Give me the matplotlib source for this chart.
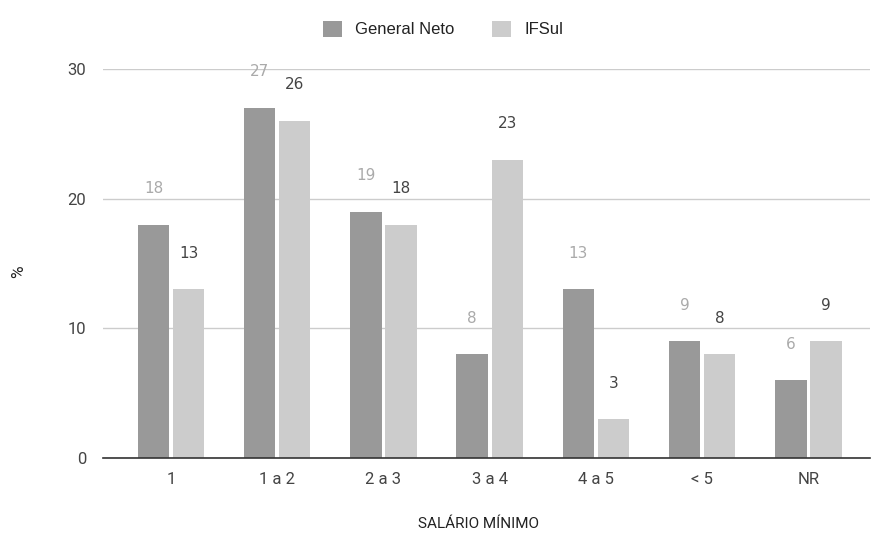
import matplotlib
matplotlib.use("Agg")
import matplotlib.pyplot as plt
import numpy as np

categories = ["1", "1 a 2", "2 a 3", "3 a 4", "4 a 5", "< 5", "NR"]
general_neto = [18, 27, 19, 8, 13, 9, 6]
ifsul = [13, 26, 18, 23, 3, 8, 9]
series_names = ["General Neto", "IFSul"]
y_ticks = [0, 10, 20, 30]

plt.rcParams["font.family"] = ["Roboto", "DejaVu Sans"]

fig = plt.figure(figsize=(8.71, 5.34), dpi=100)
ax = fig.add_axes([103 / 871, 1 - 458 / 534, (870 - 103) / 871, (458 - 69) / 534])

x = np.arange(len(categories))
w = 0.295
off = 0.165
c_dark, c_light = "#999999", "#cccccc"

b1 = ax.bar(x - off, general_neto, w, color=c_dark, label=series_names[0], zorder=3)
b2 = ax.bar(x + off, ifsul, w, color=c_light, label=series_names[1], zorder=3)

for rect, v in zip(b1, general_neto):
    ax.annotate(str(v), (rect.get_x() + rect.get_width() / 2, v), xytext=(0, 36),
                textcoords="offset pixels", ha="center", va="center",
                fontsize=11, family="DejaVu Sans", color="#aaaaaa",
                annotation_clip=False)
for rect, v in zip(b2, ifsul):
    ax.annotate(str(v), (rect.get_x() + rect.get_width() / 2, v), xytext=(0, 36),
                textcoords="offset pixels", ha="center", va="center",
                fontsize=11, family="DejaVu Sans", color="#444444",
                annotation_clip=False)

ax.set_xlim(-0.64, 6.58)
ax.set_ylim(0, 30)
ax.set_yticks(y_ticks)
ax.set_xticks(x)
ax.set_xticklabels(categories)
ax.tick_params(axis="both", length=0, labelsize=12, colors="#444444")
ax.tick_params(axis="y", pad=12)
ax.tick_params(axis="x", pad=10)
ax.grid(axis="y", color="#cccccc", linewidth=1, zorder=0)
for s in ["top", "right", "left"]:
    ax.spines[s].set_visible(False)
ax.spines["bottom"].set_color("#333333")
ax.spines["bottom"].set_linewidth(1.2)
ax.spines["bottom"].set_zorder(4)

fig.text(478 / 871, 1 - 524 / 534, "SALÁRIO MÍNIMO", ha="center", va="center",
         fontsize=11, color="#222222")
fig.text(19 / 871, 1 - 272 / 534, "%", ha="center", va="center", rotation=90,
         fontsize=12.5, color="#222222")

leg_fs = 12
em = leg_fs * 100 / 72
fig.legend(loc="center left", bbox_to_anchor=(323 / 871, 1 - 29 / 534), ncol=2,
           frameon=False, borderpad=0, borderaxespad=0,
           prop={"family": "Liberation Sans", "size": leg_fs},
           handlelength=19 / em, handleheight=19 / em,
           columnspacing=38 / em, handletextpad=13 / em, labelcolor="#222222")

fig.savefig("out.png", dpi=100)
